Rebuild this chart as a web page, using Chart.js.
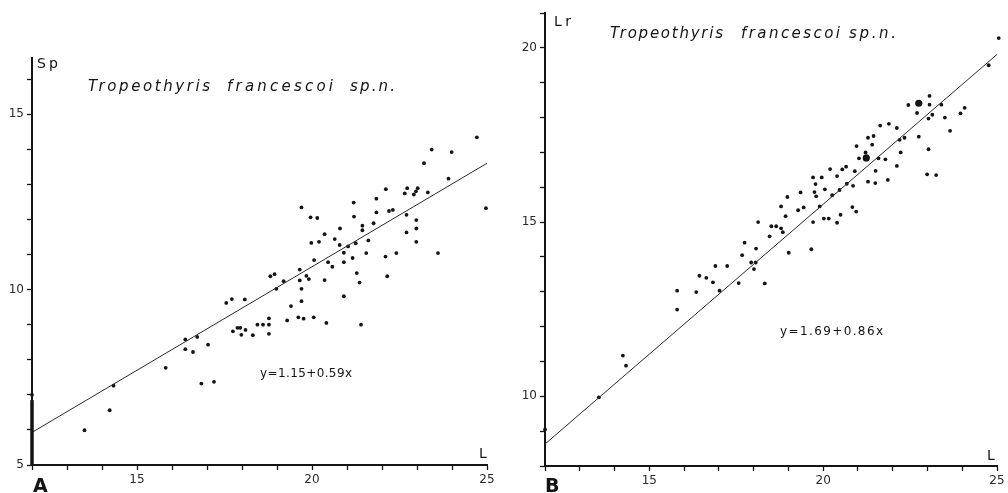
<!DOCTYPE html>
<html>
<head>
<meta charset="utf-8">
<script src="https://cdn.jsdelivr.net/npm/chart.js@4.4.1/dist/chart.umd.min.js"></script>
<style>
  html, body { margin: 0; padding: 0; background: #fff; }
  #wrap { position: relative; width: 1008px; height: 493px; overflow: hidden; }
  .panel { position: absolute; top: 0; width: 504px; height: 493px; }
</style>
</head>
<body>
<div id="wrap">
  <div class="panel" style="left:0"><canvas id="chartA" width="504" height="493"></canvas></div>
  <div class="panel" style="left:504px"><canvas id="chartB" width="504" height="493"></canvas></div>
</div>
<script>
// panel A : L (x) against Sp (y)
const lengthA = [12.0, 13.5, 14.22, 14.33, 15.82, 16.38, 16.38, 16.6, 16.72, 17.03,
  16.84, 17.2, 17.55, 17.71, 18.08, 17.74, 17.87, 17.95, 18.1, 17.98,
  18.31, 18.44, 18.6, 18.77, 18.77, 18.77, 18.81, 18.93, 18.98, 19.19,
  19.29, 19.4, 19.61, 19.76, 19.7, 19.65, 19.65, 19.7, 19.7, 19.84,
  19.91, 19.96, 20.15, 19.98, 20.05, 20.06, 20.2, 20.36, 20.36, 20.41,
  20.46, 20.58, 20.65, 20.8, 20.79, 20.91, 20.91, 20.91, 21.03, 21.16,
  21.19, 21.2, 21.25, 21.28, 21.36, 21.4, 21.44, 21.44, 21.55, 21.61,
  21.76, 21.84, 21.84, 22.1, 22.11, 22.15, 22.2, 22.31, 22.41, 22.65,
  22.7, 22.7, 22.72, 22.91, 22.97, 23.02, 22.98, 22.98, 22.98, 23.2,
  23.31, 23.42, 23.6, 23.9, 23.99, 24.71, 24.97];
const spA = [7.0, 5.99, 6.56, 7.26, 7.77, 8.58, 8.3, 8.22, 8.65, 8.43,
  7.32, 7.37, 9.62, 9.73, 9.72, 8.81, 8.91, 8.91, 8.85, 8.71,
  8.7, 9.0, 9.0, 9.0, 9.18, 8.74, 10.38, 10.44, 10.02, 10.24,
  9.12, 9.53, 9.21, 9.17, 12.34, 10.57, 10.26, 10.02, 9.67, 10.39,
  10.3, 12.06, 12.04, 11.33, 9.21, 10.84, 11.36, 11.58, 10.27, 9.05,
  10.78, 10.65, 11.44, 11.74, 11.27, 11.05, 10.78, 9.81, 11.23, 10.9,
  12.48, 12.08, 11.32, 10.47, 10.2, 9.0, 11.82, 11.69, 11.04, 11.4,
  11.89, 12.59, 12.2, 10.94, 12.86, 10.38, 12.24, 12.27, 11.04, 12.74,
  12.13, 11.63, 12.89, 12.71, 12.8, 12.89, 11.98, 11.74, 11.36, 13.6,
  12.77, 13.99, 11.04, 13.16, 13.92, 14.34, 12.32];

// panel B : L (x) against Lr (y)
const lengthB = [12.0, 13.55, 14.24, 14.33, 15.8, 15.8, 16.35, 16.44, 16.64, 16.83,
  16.9, 17.02, 17.24, 17.57, 17.67, 17.74, 17.93, 18.06, 18.01, 18.07,
  18.13, 18.32, 18.46, 18.51, 18.65, 18.79, 18.84, 18.79, 18.92, 18.97,
  19.01, 19.28, 19.35, 19.44, 19.66, 19.71, 19.71, 19.75, 19.78, 19.8,
  19.9, 19.96, 20.02, 20.05, 20.16, 20.2, 20.26, 20.4, 20.4, 20.5,
  20.47, 20.55, 20.66, 20.68, 20.86, 20.84, 20.95, 20.91, 20.96, 21.03,
  21.22, 21.29, 21.29, 21.41, 21.45, 21.5, 21.51, 21.59, 21.64, 21.79,
  21.89, 21.86, 22.12, 22.12, 22.2, 22.23, 22.34, 22.45, 22.7, 22.75,
  22.99, 23.03, 23.03, 23.06, 23.06, 23.14, 23.25, 23.4, 23.5, 23.65,
  23.95, 24.07, 24.76, 25.05];
const lrB = [9.05, 9.97, 11.17, 10.88, 13.03, 12.49, 12.99, 13.46, 13.4, 13.27,
  13.74, 13.03, 13.74, 13.25, 14.05, 14.41, 13.84, 13.84, 13.65, 14.24,
  15.0, 13.24, 14.59, 14.88, 14.88, 14.82, 14.71, 15.45, 15.17, 15.72,
  14.12, 15.34, 15.85, 15.42, 14.22, 16.28, 15.0, 15.86, 16.09, 15.74,
  15.45, 16.28, 15.1, 15.94, 15.1, 16.52, 15.77, 16.32, 14.98, 15.21,
  15.92, 16.51, 16.59, 16.1, 16.04, 15.43, 15.3, 16.46, 17.18, 16.83,
  17.0, 17.42, 16.16, 17.22, 17.47, 16.12, 16.47, 16.83, 17.77, 16.8,
  17.82, 16.21, 17.7, 16.61, 17.36, 17.0, 17.42, 18.36, 18.13, 17.45,
  16.37, 17.09, 17.97, 18.37, 18.62, 18.08, 16.35, 18.37, 18.0, 17.62,
  18.12, 18.28, 19.5, 20.28];
// the two heavier dots in B
const bigLengthB = [21.24, 22.75];
const bigLrB = [16.84, 18.41];

// regression lines, drawn between the ends of the L axis
const fitL = [12, 25];
const fitSpA = [5.93, 13.6];
const fitLrB = [8.63, 19.81];

const titleWords = ["Tropeothyris", "francescoi", "sp.n."];

const ink = "#141414";
const thinFont = '"DejaVu Sans"';

function pts(xs, ys) {
  return xs.map((x, i) => ({ x: x, y: ys[i] }));
}

function fitTo(text, ctx, x, y, width) {
  ctx.letterSpacing = "0px";
  const w = ctx.measureText(text).width;
  const gap = text.length > 1 ? (width - w) / (text.length - 1) : 0;
  ctx.letterSpacing = gap + "px";
  ctx.fillText(text, x, y);
  ctx.letterSpacing = "0px";
}

// texts drawn on top of the chart (title, equation, axis letters)
function labelPlugin(lab) {
  return {
    id: "labels",
    afterDraw(chart) {
      const ctx = chart.ctx;
      const y = chart.scales.y;
      ctx.save();
      ctx.fillStyle = ink;
      ctx.strokeStyle = ink;
      ctx.textAlign = "left";
      ctx.textBaseline = "alphabetic";
      // thicker foot of the vertical axis
      if (lab.thickTo) {
        ctx.lineWidth = 3.5;
        ctx.beginPath();
        ctx.moveTo(chart.chartArea.left, y.getPixelForValue(y.min) + 1);
        ctx.lineTo(chart.chartArea.left, y.getPixelForValue(lab.thickTo));
        ctx.stroke();
      }
      ctx.font = "italic 15px " + thinFont;
      lab.title.forEach((t, i) => fitTo(titleWords[i], ctx, t[0], lab.titleY, t[1]));
      ctx.font = "12px " + thinFont;
      fitTo(lab.eq[0], ctx, lab.eq[1], lab.eq[2], lab.eq[3]);
      ctx.font = "14px " + thinFont;
      fitTo(lab.yName[0], ctx, lab.yName[1], lab.yName[2], lab.yName[3]);
      ctx.fillText("L", lab.xName[0], lab.xName[1]);
      ctx.font = 'bold 19px "DejaVu Sans"';
      ctx.fillText(lab.letter[0], lab.letter[1], lab.letter[2]);
      ctx.restore();
    }
  };
}

function axis(min, max, fit) {
  return {
    type: "linear",
    min: min,
    max: max,
    afterFit: fit,
    afterBuildTicks: s => { s.ticks = s.ticks.filter(t => Number.isInteger(t.value)); },
    border: { display: true, color: ink, width: 2 },
    grid: { drawOnChartArea: false, drawTicks: true, tickLength: 5, tickWidth: 1.3, color: ink },
    ticks: {
      stepSize: 1,
      autoSkip: false,
      maxRotation: 0,
      padding: 3,
      color: "#2a2a2a",
      font: { family: thinFont, size: 12 },
      callback: v => (v % 5 === 0 ? v : "")
    }
  };
}

function makeChart(id, xs, ys, fitY, big, yMin, yMax, box, lab) {
  const datasets = [
    {
      type: "line",
      data: pts(fitL, fitY),
      borderColor: "#2a2a2a",
      borderWidth: 1,
      pointRadius: 0,
      fill: false,
      clip: false
    },
    {
      data: pts(xs, ys),
      backgroundColor: ink,
      borderWidth: 0,
      pointRadius: 1.9,
      clip: false
    }
  ];
  if (big) {
    datasets.push({
      data: pts(big[0], big[1]),
      backgroundColor: ink,
      borderWidth: 0,
      pointRadius: 3.6,
      clip: false
    });
  }
  return new Chart(document.getElementById(id), {
    type: "scatter",
    data: { datasets: datasets },
    plugins: [labelPlugin(lab)],
    options: {
      responsive: false,
      animation: false,
      devicePixelRatio: 1,
      layout: { padding: { left: 0, top: box.top, right: box.right, bottom: 0 } },
      plugins: { legend: { display: false }, tooltip: { enabled: false } },
      scales: {
        x: axis(12, 25, s => { s.height = box.xh; }),
        y: axis(yMin, yMax, s => { s.width = box.yw; })
      }
    }
  });
}

makeChart("chartA", lengthA, spA, fitSpA, null, 5, 16.6,
  { top: 58, right: 17, xh: 28, yw: 32 },
  {
    title: [[88, 122], [227, 106], [350, 45]], titleY: 91,
    eq: ["y=1.15+0.59x", 260, 377, 92],
    yName: ["Sp", 37, 68, 21],
    xName: [479, 458],
    letter: ["A", 33, 492],
    thickTo: 6.85
  });

makeChart("chartB", lengthB, lrB, fitLrB, [bigLengthB, bigLrB], 8, 21,
  { top: 13, right: 11, xh: 27, yw: 41 },
  {
    title: [[106, 113], [237, 99], [345, 47]], titleY: 38,
    eq: ["y=1.69+0.86x", 276, 335, 103],
    yName: ["Lr", 50, 26, 17],
    xName: [483, 460],
    letter: ["B", 41, 492]
  });
</script>
</body>
</html>
